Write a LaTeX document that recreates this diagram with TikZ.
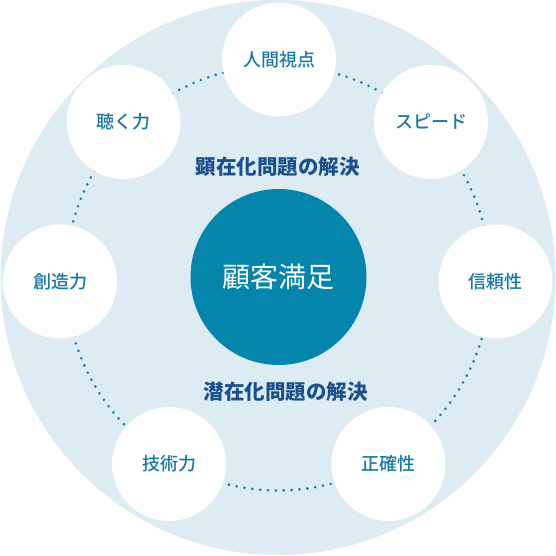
\documentclass[tikz,border=0pt]{standalone}
\usepackage{fontspec}
\newfontfamily\jp{Noto Sans CJK JP}
\newfontfamily\jpm{Noto Sans CJK JP Medium}
\definecolor{bgblue}{RGB}{221,236,242}
\definecolor{hubblue}{RGB}{4,133,172}
\definecolor{headnavy}{RGB}{27,80,140}
\definecolor{labelblue}{RGB}{24,122,163}
\definecolor{dotblue}{RGB}{26,120,160}
\tikzset{
  sat/.style={circle, fill=white, minimum size=114pt, inner sep=0pt,
    font=\jpm\fontsize{18}{18}\selectfont, text=labelblue},
  hubstyle/.style={circle, fill=hubblue, minimum size=176pt, inner sep=0pt,
    font=\jp\fontsize{28}{28}\selectfont, text=white},
  heading/.style={font=\jp\bfseries\fontsize{20.5}{20.5}\selectfont, text=headnavy, inner sep=0pt},
  dotline/.style={draw=dotblue, line width=2.9pt, line cap=round, dash pattern=on 0pt off 7.9pt}
}
\begin{document}
\begin{tikzpicture}[x=1pt,y=1pt]
\useasboundingbox (0,0) rectangle (556,555);
\fill[bgblue] (278,277.5) circle[radius=277.5];
\coordinate (ring) at (278,277);
\node[hubstyle] (hub) at (278.5,278) {顧客満足};
% dotted ring connectors between neighbouring circles
\foreach \a/\b in {90/134.7, 134.7/180.9, 180.9/239.6, 239.6/300.7, 300.7/359.1, 359.1/405.6, 405.6/450}{
  \draw[dotline] ([shift={(\a:212.5)}]ring) arc[start angle=\a, end angle=\b, radius=212.5];
}
\node[sat] (jinkan) at (279,495.5) {人間視点};
\node[sat] (kiku) at (123.5,433) {聴く力};
\node[sat] (speed) at (431,433) {スピード};
\node[sat] (sozo) at (60,273.5) {創造力};
\node[sat] (shinrai) at (495.5,273.5) {信頼性};
\node[sat] (gijutsu) at (169,91) {技術力};
\node[sat] (seikaku) at (388.5,91) {正確性};
\node[heading] (kenzai) at (277.5,388.5) {顕在化問題の解決};
\node[heading] (senzai) at (285.5,163.5) {潜在化問題の解決};
\end{tikzpicture}
\end{document}
